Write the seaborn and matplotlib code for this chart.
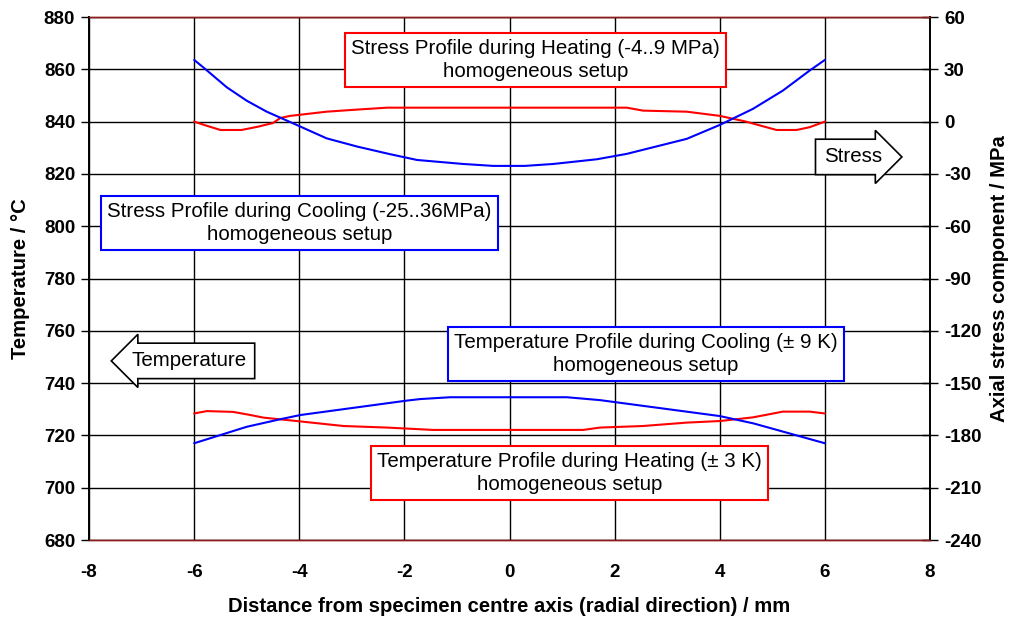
import pandas as pd
import matplotlib.pyplot as plt
import seaborn as sns

# Radial positions (mm) and profiles
x_stress_heat = [-6.0, -5.8, -5.5, -5.1, -4.8, -4.5, -4.36, -4.17, -3.48, -2.9, -2.33, 0.0,
                 2.23, 2.54, 3.37, 4.0, 4.5, 4.8, 5.08, 5.46, 5.71, 6.0]
stress_heat = [0.0, -2.0, -4.8, -4.8, -3.0, -0.8, 2.1, 3.3, 5.7, 6.9, 8.0, 8.0,
               8.0, 6.3, 5.7, 3.3, 0.0, -2.5, -4.8, -4.8, -3.2, 0.0]

x_stress_cool = [-6.0, -5.79, -5.38, -5.0, -4.62, -4.05, -3.48, -2.9, -2.27, -1.76, -0.88, -0.31,
                 0.29, 0.83, 1.66, 2.23, 3.37, 4.0, 4.63, 5.2, 5.71, 6.0]
stress_cool = [35.4, 30.2, 19.7, 12.0, 5.7, -1.9, -9.6, -14.3, -18.7, -22.0, -24.3, -25.4,
               -25.4, -24.3, -21.6, -18.5, -9.9, -1.9, 7.3, 17.8, 29.3, 35.4]

x_temp_cool = [-6.0, -5.0, -4.36, -3.98, -1.96, -1.7, -1.13, 1.09, 1.72, 4.0, 4.64, 6.0]
temp_cool = [717.0, 723.3, 726.2, 727.8, 733.3, 733.9, 734.6, 734.6, 733.5, 727.4, 724.6, 717.0]

x_temp_heat = [-6.0, -5.76, -5.26, -4.93, -4.68, -4.05, -3.16, -2.33, -1.45, 1.4, 1.72, 2.54,
               3.37, 4.0, 4.63, 5.2, 5.71, 6.0]
temp_heat = [728.4, 729.3, 729.0, 727.8, 726.8, 725.5, 723.6, 723.0, 722.1, 722.1, 723.0, 723.6,
             724.9, 725.5, 726.9, 729.1, 729.1, 728.4]

x_ticks = [-8, -6, -4, -2, 0, 2, 4, 6, 8]
temp_ticks = list(range(680, 881, 20))
stress_ticks = list(range(-240, 61, 30))

sns.set_style('white')
plt.rcParams['font.family'] = ['Liberation Sans', 'DejaVu Sans']
plt.rcParams['axes.unicode_minus'] = False
plt.rcParams['text.color'] = 'black'
plt.rcParams['axes.labelcolor'] = 'black'
plt.rcParams['xtick.color'] = 'black'
plt.rcParams['ytick.color'] = 'black'

fig = plt.figure(figsize=(10.2, 6.21), dpi=100)
ax = fig.add_axes([0.0873, 0.1304, 0.8245, 0.8422])
ax2 = ax.twinx()

# Temperature profiles on the left axis
sns.lineplot(x=x_temp_heat, y=temp_heat, ax=ax, color='#ff0000', lw=1.5)
sns.lineplot(x=x_temp_cool, y=temp_cool, ax=ax, color='#0000ff', lw=1.5)
# Stress profiles on the right axis
sns.lineplot(x=x_stress_heat, y=stress_heat, ax=ax2, color='#ff0000', lw=1.5)
sns.lineplot(x=x_stress_cool, y=stress_cool, ax=ax2, color='#0000ff', lw=1.5)

ax.set_xlim(-8, 8)
ax.set_ylim(680, 880)
ax2.set_ylim(-240, 60)
ax.set_xticks(x_ticks)
ax.set_yticks(temp_ticks)
ax2.set_yticks(stress_ticks)

ax.grid(True, color='black', lw=1.0)
ax.set_axisbelow(True)
for a in (ax, ax2):
    for side in ('left', 'right'):
        a.spines[side].set_color('black')
        a.spines[side].set_linewidth(1.2)
    for side in ('top', 'bottom'):
        a.spines[side].set_color('#8b1a1a')
        a.spines[side].set_linewidth(1.0)

ax.tick_params(axis='y', direction='out', length=6, width=1, pad=4, labelsize=13.5)
ax.tick_params(axis='x', direction='inout', length=10, width=1, pad=12, labelsize=13.5)
ax2.tick_params(axis='y', direction='inout', length=12, width=1, pad=4, labelsize=13.5)
for lbl in ax.get_xticklabels() + ax.get_yticklabels() + ax2.get_yticklabels():
    lbl.set_fontweight('bold')

ax.set_xlabel('Distance from specimen centre axis (radial direction) / mm',
              fontsize=14.6, fontweight='bold', labelpad=12)
ax.set_ylabel('Temperature / °C', fontsize=14.6, fontweight='bold', labelpad=10)
ax2.set_ylabel('Axial stress component / MPa', fontsize=14.6, fontweight='bold', labelpad=6)

box_kw = dict(ha='center', va='center', multialignment='center', fontsize=14.8,
              linespacing=1.25, zorder=5)
ax.text(0.5, 863.6, 'Stress Profile during Heating (-4..9 MPa)\nhomogeneous setup',
        bbox=dict(boxstyle='square,pad=0.3', fc='white', ec='#ff0000', lw=1.5), **box_kw)
ax.text(-4.0, 801.2, 'Stress Profile during Cooling (-25..36MPa)\nhomogeneous setup',
        bbox=dict(boxstyle='square,pad=0.3', fc='white', ec='#0000ff', lw=1.5), **box_kw)
ax.text(2.59, 751.1, 'Temperature Profile during Cooling (± 9 K)\nhomogeneous setup',
        bbox=dict(boxstyle='square,pad=0.3', fc='white', ec='#0000ff', lw=1.5), **box_kw)
ax.text(1.14, 705.6, 'Temperature Profile during Heating (± 3 K)\nhomogeneous setup',
        bbox=dict(boxstyle='square,pad=0.3', fc='white', ec='#ff0000', lw=1.5), **box_kw)

# Direction arrows pointing to the relevant axis
ax.text(-6.1, 748.5, 'Temperature', ha='center', va='center', fontsize=14.8, zorder=5,
        bbox=dict(boxstyle='larrow,pad=0.4', fc='white', ec='black', lw=1.2))
ax.text(6.53, 826.5, 'Stress', ha='center', va='center', fontsize=14.8, zorder=5,
        bbox=dict(boxstyle='rarrow,pad=0.4', fc='white', ec='black', lw=1.2))

fig.savefig('out.png', dpi=100)
